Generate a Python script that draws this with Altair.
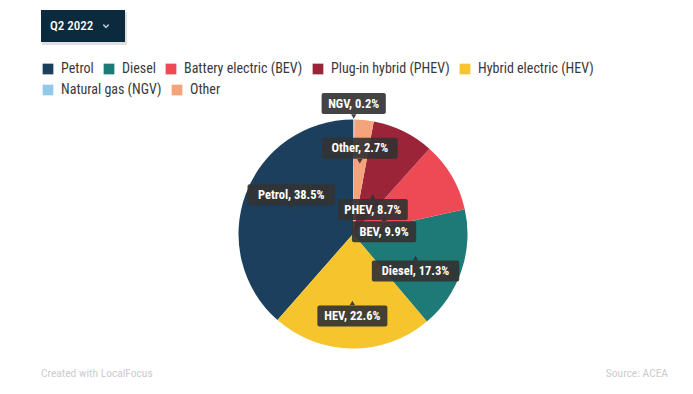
import altair as alt
import pandas as pd

# ---- data ----
categories = ["Petrol", "Diesel", "Battery electric (BEV)", "Plug-in hybrid (PHEV)",
              "Hybrid electric (HEV)", "Natural gas (NGV)", "Other"]
short_names = ["Petrol", "Diesel", "BEV", "PHEV", "HEV", "NGV", "Other"]
shares = [38.5, 17.3, 9.9, 8.7, 22.6, 0.2, 2.7]
pie_order = ["NGV", "Other", "PHEV", "BEV", "Diesel", "HEV", "Petrol"]  # clockwise from top
colors = ["#1b3f5c", "#1e7a76", "#ee4a55", "#9b2438", "#f6c42d", "#92c8ea", "#f5a37b"]
period = "Q2 2022"
credit = "Created with LocalFocus"
source = "Source:  ACEA"

df = pd.DataFrame({
    "category": categories,
    "short": short_names,
    "share": shares,
    "ord": [pie_order.index(s) for s in short_names],
})

W, H = 677, 378
CX, CY, R = 345, 226, 114.5
FONT = "Roboto Condensed, Liberation Sans Narrow, DejaVu Sans Condensed, Roboto, sans-serif"

xs = alt.Scale(domain=[0, W], range=[0, W], nice=False, zero=False)
ys = alt.Scale(domain=[0, H], range=[0, H], nice=False, zero=False)

base = alt.Chart(df)

pie = base.mark_arc(outerRadius=R, stroke=None).encode(
    theta=alt.Theta("share:Q", stack=True),
    order=alt.Order("ord:Q", sort="ascending"),
    color=alt.Color("category:N", scale=alt.Scale(domain=categories, range=colors), legend=None),
    x=alt.value(CX), y=alt.value(CY),
)


def legend_layer(cats, ly):
    cols = [colors[categories.index(c)] for c in cats]
    return base.transform_filter(alt.FieldOneOfPredicate(field="category", oneOf=cats)).mark_square(
        size=0, opacity=0
    ).encode(
        x=alt.value(0), y=alt.value(0),
        color=alt.Color("category:N", scale=alt.Scale(domain=cats, range=cols),
                        legend=alt.Legend(title=None, orient="none", legendX=33, legendY=ly,
                                          direction="horizontal",
                                          symbolType="square", symbolSize=115,
                                          symbolOpacity=1, symbolStrokeWidth=0,
                                          labelFont=FONT, labelFontSize=14, labelColor="#3a3a3a",
                                          columnPadding=8, labelOffset=6)),
    )


legend_row1 = legend_layer(categories[:5], 54)
legend_row2 = legend_layer(categories[5:], 75)

labels = base.transform_window(
    cum="sum(share)", sort=[alt.SortField("ord", order="ascending")], frame=[None, 0]
).transform_joinaggregate(total="sum(share)").transform_calculate(
    mid="(datum.cum - datum.share/2)/datum.total*2*PI",
    label="datum.short + ', ' + format(datum.share, '.1f') + '%'",
).transform_calculate(
    r=f"datum.share < 1 ? {R} : (datum.share < 5 ? 70 : (datum.share < 9 ? 45 : (datum.share < 12 ? 36 : 66)))",
).transform_calculate(
    ax=f"{CX} + datum.r*sin(datum.mid)",
    ay=f"{CY} - datum.r*cos(datum.mid)",
    above="cos(datum.mid) > 0 && sin(datum.mid) < 0.3",
).transform_calculate(
    by="datum.above ? datum.ay - 16 : datum.ay + 16",
    py="datum.above ? datum.ay - 3 : datum.ay + 3",
    hw="length(datum.label)*2.9 + 6",
).transform_calculate(
    x1="datum.ax - datum.hw", x2="datum.ax + datum.hw",
    y1="datum.by - 10.5", y2="datum.by + 10.5",
)

boxes = labels.mark_rect(color="#333333", opacity=0.92, cornerRadius=2).encode(
    x=alt.X("x1:Q", scale=xs, axis=None), x2="x2:Q",
    y=alt.Y("y1:Q", scale=ys, axis=None), y2="y2:Q",
)
pointers = labels.mark_point(filled=True, color="#333333", opacity=0.92, size=28).encode(
    x=alt.X("ax:Q", scale=xs, axis=None),
    y=alt.Y("py:Q", scale=ys, axis=None),
    shape=alt.condition("datum.above", alt.value("triangle-down"), alt.value("triangle-up")),
)
texts = labels.mark_text(color="white", font=FONT, fontSize=12.5, fontWeight="bold",
                         align="center", baseline="middle").encode(
    x=alt.X("ax:Q", scale=xs, axis=None),
    y=alt.Y("by:Q", scale=ys, axis=None),
    text="label:N",
)

one = alt.Data(values=[{}])
shadow = alt.Chart(one).mark_rect(color="#000000", opacity=0.12, cornerRadius=1).encode(
    x=alt.value(34), x2=alt.value(119), y=alt.value(4), y2=alt.value(37))
button = alt.Chart(one).mark_rect(color="#0c2a3e").encode(
    x=alt.value(33), x2=alt.value(117), y=alt.value(2), y2=alt.value(34))
button_text = alt.Chart(one).mark_text(color="white", font=FONT, fontSize=13, fontWeight=500,
                                       align="left", baseline="middle").encode(
    x=alt.value(42), y=alt.value(18), text=alt.value(period))
chevron = alt.Chart(one).mark_point(shape="M-1,-0.5L0,0.5L1,-0.5", filled=False, color="white",
                                    strokeWidth=1.5, size=30).encode(
    x=alt.value(98), y=alt.value(18))
foot_left = alt.Chart(one).mark_text(color="#cccccc", font=FONT, fontSize=11.5,
                                     align="left", baseline="middle").encode(
    x=alt.value(33), y=alt.value(366), text=alt.value(credit))
foot_right = alt.Chart(one).mark_text(color="#cccccc", font=FONT, fontSize=11.5,
                                      align="right", baseline="middle").encode(
    x=alt.value(660), y=alt.value(366), text=alt.value(source))

chart = alt.layer(
    pie, legend_row1, legend_row2, boxes, pointers, texts,
    shadow, button, button_text, chevron, foot_left, foot_right,
).resolve_scale(color="independent").properties(
    width=W, height=H, padding=0, background="white",
    autosize=alt.AutoSizeParams(type="none"),
).configure_view(strokeWidth=0, stroke="transparent")

chart.save("out.html", embed_options={"renderer": "svg", "actions": False})
